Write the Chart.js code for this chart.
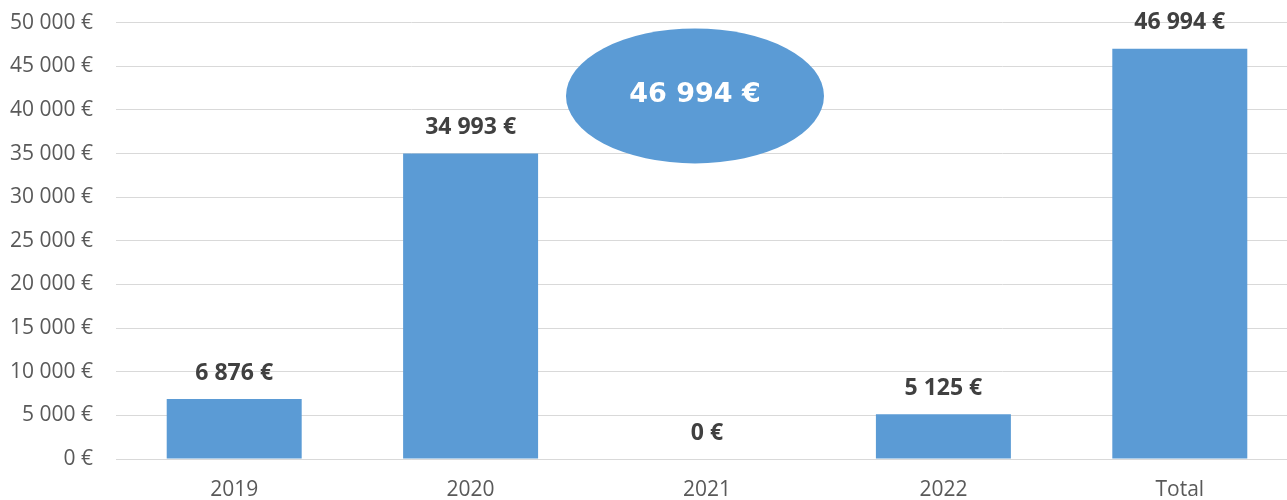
<!DOCTYPE html>
<html>
<head>
<meta charset="utf-8">
<script src="https://cdn.jsdelivr.net/npm/chart.js@4.4.1/dist/chart.umd.min.js"></script>
<style>
  html, body { margin: 0; padding: 0; background: #fff; overflow: hidden; }
  /* plot runs slightly past the right and top edges of the window, as in the original */
  #wrap { width: 1298px; height: 513px; position: relative; top: -13px; }
</style>
</head>
<body>
<div id="wrap"><canvas id="chart"></canvas></div>
<script>
// Values
const categories = ['2019', '2020', '2021', '2022', 'Total']
const amounts = [6876, 34993, 0, 5125, 46994]
const yTicks = [0, 5000, 10000, 15000, 20000, 25000, 30000, 35000, 40000, 45000, 50000]
const bubbleText = '46 994 €'

const formatEuro = (v) => String(Math.round(v)).replace(/\B(?=(\d{3})+(?!\d))/g, ' ') + ' €'

// Bold value above each bar
const valueLabels = {
  id: 'valueLabels',
  afterDatasetsDraw (chart) {
    const { ctx } = chart
    const meta = chart.getDatasetMeta(0)
    ctx.save()
    ctx.font = 'bold 23px "Open Sans", sans-serif'
    ctx.fillStyle = '#404040'
    ctx.textAlign = 'center'
    ctx.textBaseline = 'middle'
    meta.data.forEach((bar, i) => {
      ctx.fillText(formatEuro(amounts[i]), bar.x, bar.y - 26)
    })
    ctx.restore()
  }
}

// Blue ellipse callout with the total
const totalBubble = {
  id: 'totalBubble',
  afterDraw (chart) {
    const { ctx, scales } = chart
    const cx = scales.x.getPixelForValue(2) - 12
    const cy = scales.y.getPixelForValue(41600)
    ctx.save()
    ctx.beginPath()
    ctx.ellipse(cx, cy, 129, 67.5, 0, 0, Math.PI * 2)
    ctx.fillStyle = '#5b9bd5'
    ctx.fill()
    ctx.font = 'bold 27px "DejaVu Sans", sans-serif'
    ctx.fillStyle = '#ffffff'
    ctx.textAlign = 'center'
    ctx.textBaseline = 'middle'
    ctx.fillText(bubbleText, cx, cy - 1)
    ctx.restore()
  }
}

new Chart(document.getElementById('chart').getContext('2d'), {
  type: 'bar',
  data: {
    labels: categories,
    datasets: [{
      data: amounts,
      backgroundColor: '#5b9bd5',
      borderWidth: 0,
      barPercentage: 0.571,
      categoryPercentage: 1
    }]
  },
  options: {
    responsive: true,
    maintainAspectRatio: false,
    animation: false,
    layout: { padding: { top: 10, right: 0, left: 0, bottom: 0 } },
    plugins: {
      legend: { display: false },
      tooltip: { enabled: false }
    },
    scales: {
      x: {
        grid: { display: false },
        border: { display: true, color: '#d9d9d9', width: 1 },
        ticks: { color: '#595959', font: { family: '"Open Sans", sans-serif', size: 21 }, padding: 10 },
        afterFit: (axis) => { axis.height = 41 }
      },
      y: {
        min: 0,
        max: 50000,
        afterBuildTicks: (axis) => { axis.ticks = yTicks.map(v => ({ value: v })) },
        grid: { color: '#d9d9d9', lineWidth: 1, drawTicks: false },
        border: { display: false },
        ticks: {
          color: '#595959',
          font: { family: '"Open Sans", sans-serif', size: 21 },
          padding: 23,
          callback: (v) => formatEuro(v)
        },
        afterFit: (axis) => { axis.width = 116 }
      }
    }
  },
  plugins: [valueLabels, totalBubble]
})
</script>
</body>
</html>
